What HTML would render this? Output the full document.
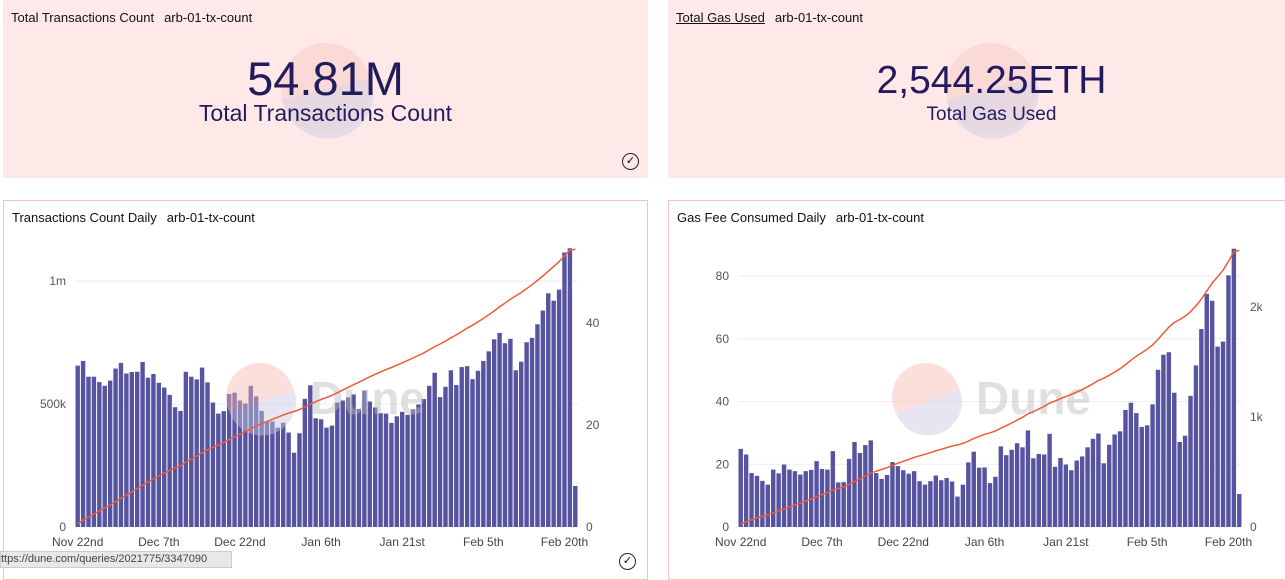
<!DOCTYPE html>
<html><head><meta charset="utf-8">
<style>
body{margin:0;width:1285px;height:566px;overflow:hidden;background:#fff;font-family:"Liberation Sans",sans-serif;position:relative}
.card{position:absolute;box-sizing:border-box}
.pink{background:#fee8e8}
.bord{border:1px solid #f2c4c0;background:#fff}
.title{position:absolute;left:8px;top:10px;font-size:13px;color:#111}
.title b{font-weight:normal;margin-right:10px}
.big{position:absolute;left:0;right:0;text-align:center;color:#231c5c}
svg{position:absolute;left:0;top:0}
</style></head><body>
<div class="card pink" style="left:3px;top:0;width:645px;height:178px">
 <svg width="645" height="178"><circle cx="323" cy="88" r="45" fill="#f8d3d0" opacity="0.7"/><path d="M278,100 L368,78 A45,45 0 0 1 282,108 Z" fill="#ddd6e6" opacity="0.7"/></svg>
 <div class="title"><b>Total Transactions Count</b>arb-01-tx-count</div>
 <div class="big" style="top:51px;font-size:47px">54.81M</div>
 <div class="big" style="top:100px;font-size:23px">Total Transactions Count</div>
 <div style="position:absolute;left:619px;top:153px;width:15px;height:15px;border:1.5px solid #222;border-radius:50%;font-size:11px;text-align:center;line-height:15px">✓</div>
</div>
<div class="card pink" style="left:668px;top:0;width:617px;height:178px">
 <svg width="617" height="178"><circle cx="323" cy="88" r="45" fill="#f8d3d0" opacity="0.7"/><path d="M278,100 L368,78 A45,45 0 0 1 282,108 Z" fill="#ddd6e6" opacity="0.7"/></svg>
 <div class="title"><b style="text-decoration:underline">Total Gas Used</b>arb-01-tx-count</div>
 <div class="big" style="top:59px;font-size:39px;left:30px">2,544.25ETH</div>
 <div class="big" style="top:104px;font-size:19px;left:30px">Total Gas Used</div>
</div>
<div class="card bord" style="left:3px;top:200px;width:645px;height:380px">
 <div class="title" style="top:9px"><b>Transactions Count Daily</b>arb-01-tx-count</div>
</div>
<div class="card bord" style="left:668px;top:200px;width:630px;height:380px">
 <div class="title" style="top:9px"><b>Gas Fee Consumed Daily</b>arb-01-tx-count</div>
</div>
<svg id="ch" width="1285" height="566"></svg>
<div style="position:absolute;left:619px;top:553px;width:15px;height:15px;border:1.5px solid #222;border-radius:50%;font-size:11px;text-align:center;line-height:15px;background:#fff">✓</div>
<div style="position:absolute;left:0;top:551px;width:230px;height:15px;background:#e8e8e8;border:1px solid #ccc;font-size:11px;color:#444;line-height:15px;white-space:nowrap;overflow:hidden">ttps://dune.com/queries/2021775/3347090</div>
<script>
const dateLabels=["Nov 22nd","Dec 7th","Dec 22nd","Jan 6th","Jan 21st","Feb 5th","Feb 20th"];
const txDaily=[656,675,611,611,589,574,595,644,667,624,630,631,671,607,622,586,567,537,487,472,631,611,600,648,588,506,461,471,541,546,514,502,574,531,472,429,429,404,424,384,302,381,521,576,442,438,404,412,506,514,527,539,480,554,510,486,463,461,423,450,468,456,478,498,520,574,627,528,570,637,577,650,654,601,635,675,714,763,789,747,765,637,672,751,769,824,880,950,920,965,1116,1133,167];
const gasDaily=[24.9,23.1,17.2,16.3,14.7,13.5,18.3,17.1,19.9,18.3,17.8,16.7,17.8,18.2,21,18.5,18.3,24.2,14.2,14.3,21.7,27.1,23.6,26.1,27.6,17.2,15.3,16.6,20.7,19.4,18.1,17,17.8,14.6,13.5,14.6,16.4,14.9,15.6,14.5,9.7,13.5,20.6,24,18.9,19,14,16,25.7,22.9,24.6,26.7,25.4,30.8,21.9,23.3,23.1,29.7,19.2,22,19.9,18.1,21.2,22.5,25.4,28.1,29.8,20.3,26.2,29.5,30.5,37.3,39.6,36.3,31.9,32.4,39.1,50.1,54.9,55.7,42.8,27.1,29.1,41.8,51.5,63.1,74.3,72.1,57.5,59.1,80.2,88.7,10.5];
const txLeftTicks=[0,500,1000], txLeftLbl=["0","500k","1m"];
const txRightTicks=[0,20,40], txRightLbl=["0","20","40"];
const gasLeftTicks=[0,20,40,60,80], gasLeftLbl=["0","20","40","60","80"];
const gasRightTicks=[0,1000,2000], gasRightLbl=["0","1k","2k"];
const NS="http://www.w3.org/2000/svg";
const svg=document.getElementById('ch');
function mk(t,a,p){const e=document.createElementNS(NS,t);for(const k in a)e.setAttribute(k,a[k]);(p||svg).appendChild(e);return e;}
function draw(c){
 const g=mk('g',{});
 
 
 const n=c.data.length,bw=(c.x1-c.x0)/n;
 const yL=v=>c.y0-(v-c.lmin)/(c.lmax-c.lmin)*(c.y0-c.ytop);
 const yR=v=>c.y0-v/c.rmax*(c.y0-c.ytop);
 c.lt.forEach((v,i)=>{
  if(v>0){const gl=mk('line',{x1:c.x0,x2:c.x1,y1:yL(v),y2:yL(v),stroke:'#eee'},g);}
  const t=mk('text',{x:c.x0-9,y:yL(v)+4,'text-anchor':'end','font-size':12,fill:'#555'},g);t.textContent=c.ll[i];
  
 });
 c.rt.forEach((v,i)=>{const t=mk('text',{x:c.x1+8,y:yR(v)+4,'font-size':12,fill:'#555'},g);t.textContent=c.rl[i];
  });
 c.data.forEach((v,i)=>{const r=mk('rect',{x:c.x0+i*bw+0.5,y:yL(v),width:bw-1,height:c.y0-yL(v),fill:'#5654a0'},g);
  });
 const wm=mk('g',{opacity:0.45},g);
 
 mk('circle',{cx:c.wx,cy:397,r:34,fill:'#f7b9af'},wm);
 mk('path',{d:`M${c.wx-30},${413} L${c.wx+34},${390} A34,34 0 0 1 ${c.wx-30},413 Z`,fill:'#c9c7e2'},wm);
 const wt=mk('text',{x:c.wx+50,y:414,'font-size':46,'font-weight':'bold',fill:'#bbb'},wm);wt.textContent='Dune';
 let s=0,pts=[];c.data.forEach((v,i)=>{s+=v*c.cumScale;pts.push((c.x0+(i+0.5)*bw).toFixed(1)+','+yR(s).toFixed(1));});
 const pl=mk('polyline',{points:pts.join(' '),fill:'none',stroke:'#f05a38','stroke-width':1.5},g);
 
 dateLabels.forEach((d,i)=>{const t=mk('text',{x:c.x0+(i*15+0.5)*bw,y:c.y0+19,'text-anchor':'middle','font-size':12,fill:'#444'},g);t.textContent=d;
  });
}
draw({name:'tx-daily-chart',data:txDaily,x0:75,x1:578,y0:527,ytop:281,lmin:0,lmax:1000,rmax:48.2,cumScale:0.001,lt:txLeftTicks,ll:txLeftLbl,rt:txRightTicks,rl:txRightLbl,wx:260});
draw({name:'gas-daily-chart',data:gasDaily,x0:738,x1:1242,y0:527,ytop:276,lmin:0,lmax:80,rmax:2000*(527-276)/(527-307),cumScale:1,lt:gasLeftTicks,ll:gasLeftLbl,rt:gasRightTicks,rl:gasRightLbl,wx:926});
</script>
</body></html>
